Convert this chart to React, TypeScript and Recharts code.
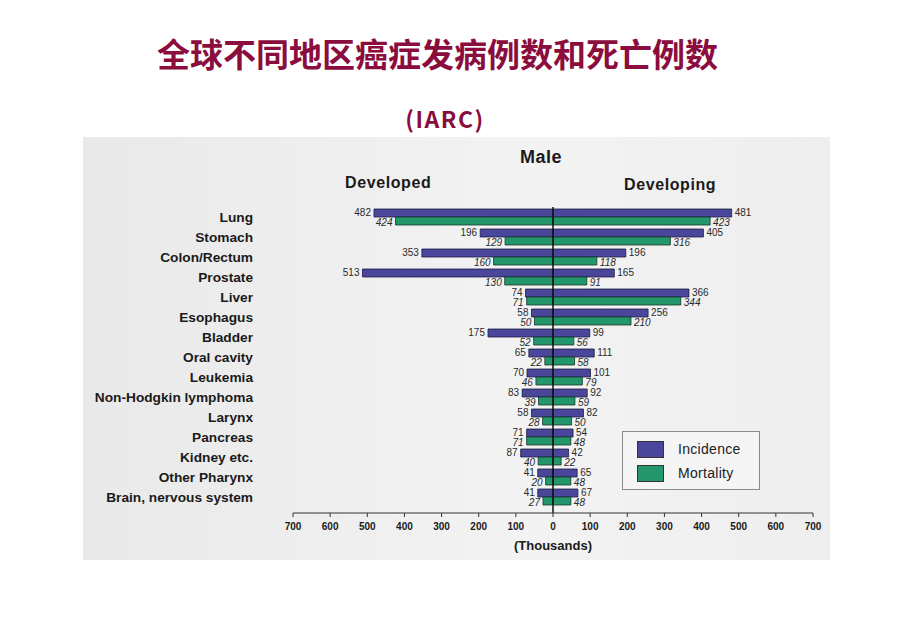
import React from "react";
import {
  BarChart,
  Bar,
  XAxis,
  YAxis,
  ReferenceLine,
  LabelList,
  Legend,
} from "recharts";

const categories = [
  "Lung",
  "Stomach",
  "Colon/Rectum",
  "Prostate",
  "Liver",
  "Esophagus",
  "Bladder",
  "Oral cavity",
  "Leukemia",
  "Non-Hodgkin lymphoma",
  "Larynx",
  "Pancreas",
  "Kidney etc.",
  "Other Pharynx",
  "Brain, nervous system",
];

// thousands of cases, male
const developedIncidence = [482, 196, 353, 513, 74, 58, 175, 65, 70, 83, 58, 71, 87, 41, 41];
const developedMortality = [424, 129, 160, 130, 71, 50, 52, 22, 46, 39, 28, 71, 40, 20, 27];
const developingIncidence = [481, 405, 196, 165, 366, 256, 99, 111, 101, 92, 82, 54, 42, 65, 67];
const developingMortality = [423, 316, 118, 91, 344, 210, 56, 58, 79, 59, 50, 48, 22, 48, 48];

const xTicks = [-700, -600, -500, -400, -300, -200, -100, 0, 100, 200, 300, 400, 500, 600, 700];

const data = categories.map((name, i) => ({
  name,
  devInc: -developedIncidence[i],
  devMort: -developedMortality[i],
  dvpInc: developingIncidence[i],
  dvpMort: developingMortality[i],
}));

const INC = "#4a469c";
const MORT = "#23966b";
const SANS = "'Liberation Sans', Arial, sans-serif";
const MAROON = "#8b0d3e";

function endLabel(side: "left" | "right", italic: boolean, dy: number) {
  return (props: any) => {
    const vb = props.viewBox && props.viewBox.width !== undefined ? props.viewBox : props;
    const x = Number(vb.x);
    const y = Number(vb.y);
    const w = Number(vb.width);
    const h = Number(vb.height);
    const tx = side === "left" ? Math.min(x, x + w) - 3 : Math.max(x, x + w) + 3;
    return (
      <text
        x={tx}
        y={y + h / 2 + dy}
        textAnchor={side === "left" ? "end" : "start"}
        dominantBaseline="central"
        fontSize={10}
        fontFamily={SANS}
        fontStyle={italic ? "italic" : "normal"}
        fill="#2a2a2a"
      >
        {Math.abs(Number(props.value))}
      </text>
    );
  };
}

function LegendBox(props: any) {
  const items = (props.payload || []).filter((p: any) => p.type !== "none");
  return (
    <div
      style={{
        width: 138,
        height: 59,
        border: "1px solid #8a8a8a",
        background: "#f5f5f5",
        boxSizing: "border-box",
        paddingTop: 5,
        fontFamily: SANS,
      }}
    >
      {items.map((p: any) => (
        <div key={p.value} style={{ display: "flex", alignItems: "center", height: 24 }}>
          <div
            style={{
              width: 27,
              height: 17,
              marginLeft: 14,
              background: p.color,
              border: "1px solid #333",
              boxSizing: "border-box",
            }}
          />
          <span style={{ marginLeft: 14, fontSize: 14, color: "#222", letterSpacing: 0.3 }}>
            {p.value}
          </span>
        </div>
      ))}
    </div>
  );
}

const abs = (v: number) => String(Math.abs(v));

export default function App() {
  return (
    <div style={{ position: "absolute", left: 0, top: 0, width: 920, height: 637, background: "#fff" }}>
      <div
        style={{
          position: "absolute",
          left: 83,
          top: 137,
          width: 747,
          height: 423,
          background: "linear-gradient(90deg, #e9e9e9, #f3f3f3 60%, #eeeeee)",
        }}
      />
      <div
        style={{
          position: "absolute",
          left: 0,
          width: 875,
          top: 33,
          textAlign: "center",
          fontFamily: "'Noto Sans CJK SC', sans-serif",
          fontWeight: 700,
          fontSize: 33,
          lineHeight: "40px",
          color: MAROON,
        }}
      >
        全球不同地区癌症发病例数和死亡例数
      </div>
      <div
        style={{
          position: "absolute",
          left: 0,
          width: 890,
          top: 103,
          textAlign: "center",
          fontFamily: "'Noto Sans CJK SC', sans-serif",
          fontWeight: 700,
          fontSize: 23,
          lineHeight: "30px",
          letterSpacing: 1.5,
          color: MAROON,
        }}
      >
        (IARC)
      </div>
      <div style={{ position: "absolute", left: 520, top: 147, fontFamily: SANS, fontWeight: 700, fontSize: 18, letterSpacing: 0.5, color: "#1a1a1a" }}>
        Male
      </div>
      <div style={{ position: "absolute", left: 345, top: 174, fontFamily: SANS, fontWeight: 700, fontSize: 16, letterSpacing: 0.6, color: "#1a1a1a" }}>
        Developed
      </div>
      <div style={{ position: "absolute", left: 624, top: 176, fontFamily: SANS, fontWeight: 700, fontSize: 16, letterSpacing: 0.6, color: "#1a1a1a" }}>
        Developing
      </div>
      <div style={{ position: "absolute", left: 0, top: 0 }}>
        <BarChart
          width={920}
          height={637}
          data={data}
          layout="vertical"
          stackOffset="sign"
          barGap={0}
          barSize={8}
          margin={{ top: 207, right: 107, bottom: 94, left: 93 }}
        >
          <XAxis
            type="number"
            domain={[-700, 700]}
            ticks={xTicks}
            tickFormatter={abs}
            height={30}
            stroke="#333"
            tickSize={4}
            tickMargin={6}
            tick={{ fontSize: 10, fontWeight: 700, fill: "#1a1a1a", fontFamily: SANS }}
            label={{
              value: "(Thousands)",
              position: "insideBottom",
              offset: -7,
              fontSize: 13,
              fontWeight: 700,
              fill: "#1a1a1a",
              fontFamily: SANS,
            }}
          />
          <YAxis
            type="category"
            dataKey="name"
            width={200}
            axisLine={false}
            tickLine={false}
            tickSize={0}
            tickMargin={40}
            interval={0}
            padding={{ top: 0, bottom: 6 }}
            tick={{ fontSize: 13.7, fontWeight: 700, fill: "#1a1a1a", fontFamily: SANS }}
          />
          <Legend
            layout="vertical"
            align="center"
            verticalAlign="middle"
            wrapperStyle={{ left: 622, top: 431, width: 138, height: 59 }}
            content={LegendBox}
          />
          <Bar dataKey="devInc" name="Incidence" stackId="inc" fill={INC} stroke="#1d1a40" strokeWidth={0.8} isAnimationActive={false}>
            <LabelList dataKey="devInc" content={endLabel("left", false, -1)} />
          </Bar>
          <Bar dataKey="dvpInc" name="Incidence " stackId="inc" fill={INC} stroke="#1d1a40" strokeWidth={0.8} legendType="none" isAnimationActive={false}>
            <LabelList dataKey="dvpInc" content={endLabel("right", false, -1)} />
          </Bar>
          <Bar dataKey="devMort" name="Mortality" stackId="mort" fill={MORT} stroke="#143a28" strokeWidth={0.8} isAnimationActive={false}>
            <LabelList dataKey="devMort" content={endLabel("left", true, 1)} />
          </Bar>
          <Bar dataKey="dvpMort" name="Mortality " stackId="mort" fill={MORT} stroke="#143a28" strokeWidth={0.8} legendType="none" isAnimationActive={false}>
            <LabelList dataKey="dvpMort" content={endLabel("right", true, 1)} />
          </Bar>
          <ReferenceLine x={0} stroke="#111" strokeWidth={1.5} />
        </BarChart>
      </div>
    </div>
  );
}
